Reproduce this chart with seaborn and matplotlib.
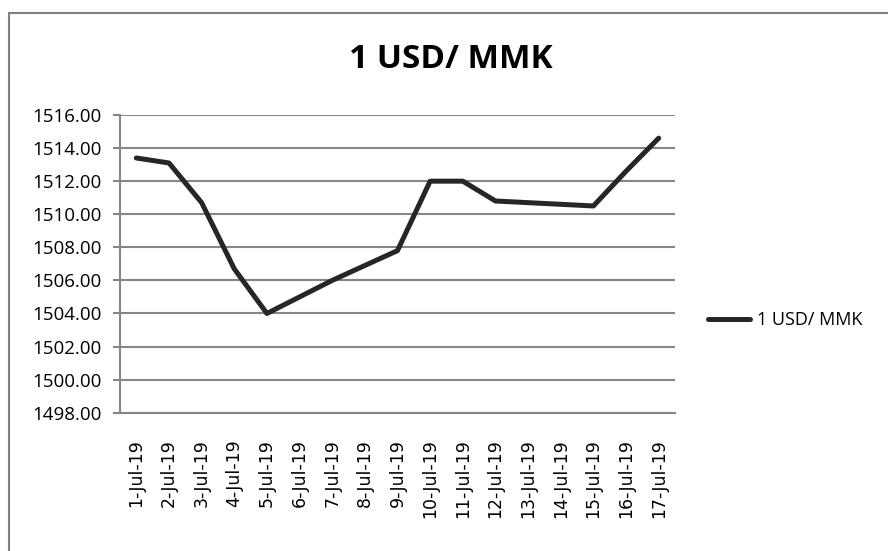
import pandas as pd
import numpy as np
import matplotlib
matplotlib.use("Agg")
import matplotlib.pyplot as plt
import seaborn as sns
from matplotlib.lines import Line2D

# data
dates = ['1-Jul-19', '2-Jul-19', '3-Jul-19', '4-Jul-19', '5-Jul-19', '6-Jul-19',
         '7-Jul-19', '8-Jul-19', '9-Jul-19', '10-Jul-19', '11-Jul-19', '12-Jul-19',
         '13-Jul-19', '14-Jul-19', '15-Jul-19', '16-Jul-19', '17-Jul-19']
rate = [1513.4, 1513.1, 1510.7, 1506.7, 1504.0, 1505.0, 1506.0, 1506.9, 1507.8,
        1512.0, 1512.0, 1510.8, 1510.7, 1510.6, 1510.5, 1512.6, 1514.6]
y_ticks = [1498, 1500, 1502, 1504, 1506, 1508, 1510, 1512, 1514, 1516]
series_name = '1 USD/ MMK'

df = pd.DataFrame({'date': dates, 'rate': rate})

sns.set_style('white')
plt.rcParams['font.family'] = ['Open Sans', 'DejaVu Sans']
plt.rcParams['text.color'] = 'black'

fig = plt.figure(figsize=(8.88, 5.51), dpi=100)
ax = fig.add_axes([120/888, 1-412.7/551, 555/888, (412.7-115)/551])

sns.lineplot(x='date', y='rate', data=df, ax=ax, color='#262626', linewidth=3.6,
             label=series_name, sort=False)

# gridlines + axes like excel
ax.set_ylim(1498, 1516)
ax.set_yticks(y_ticks)
ax.set_yticklabels(['%.2f' % v for v in y_ticks], fontsize=13.5, color='black')
ax.yaxis.grid(True, color='#868686', linewidth=1.5)
ax.xaxis.grid(False)
ax.set_axisbelow(True)

ax.set_xlim(-0.5, len(dates) - 0.5)
ax.set_xticks(range(len(dates)))
ax.set_xticklabels(dates, rotation=90, fontsize=12.5, family='DejaVu Sans', color='black')
ax.set_xticks(np.arange(-0.5, len(dates)), minor=True)
ax.tick_params(axis='x', which='major', length=0, pad=19)
ax.tick_params(axis='x', which='minor', length=5, width=1.5, color='#868686', direction='out')
ax.tick_params(axis='y', which='major', length=5, width=1.5, color='#868686', direction='out', pad=8, left=True)

for s in ['top', 'right']:
    ax.spines[s].set_visible(False)
for s in ['left', 'bottom']:
    ax.spines[s].set_color('#868686')
    ax.spines[s].set_linewidth(1.5)
ax.set_xlabel('')
ax.set_ylabel('')

fig.text(451/888, 1-60/551, '1 USD/ MMK', ha='center', va='center',
         fontsize=24, fontweight='bold', color='black')

leg = ax.legend(loc='center left', bbox_to_anchor=(692/888, 1-320/551),
                bbox_transform=fig.transFigure, frameon=False, fontsize=13,
                handlelength=2.3, handletextpad=0.4)
for t in leg.get_texts():
    t.set_color('black')

# outer chart border (only top and left visible in the crop)
fig.add_artist(Line2D([9/888, 1], [1-13/551, 1-13/551], transform=fig.transFigure,
                      color='#808080', linewidth=1.5))
fig.add_artist(Line2D([9/888, 9/888], [0, 1-13/551], transform=fig.transFigure,
                      color='#808080', linewidth=1.5))

plt.savefig('out.png', dpi=100)
